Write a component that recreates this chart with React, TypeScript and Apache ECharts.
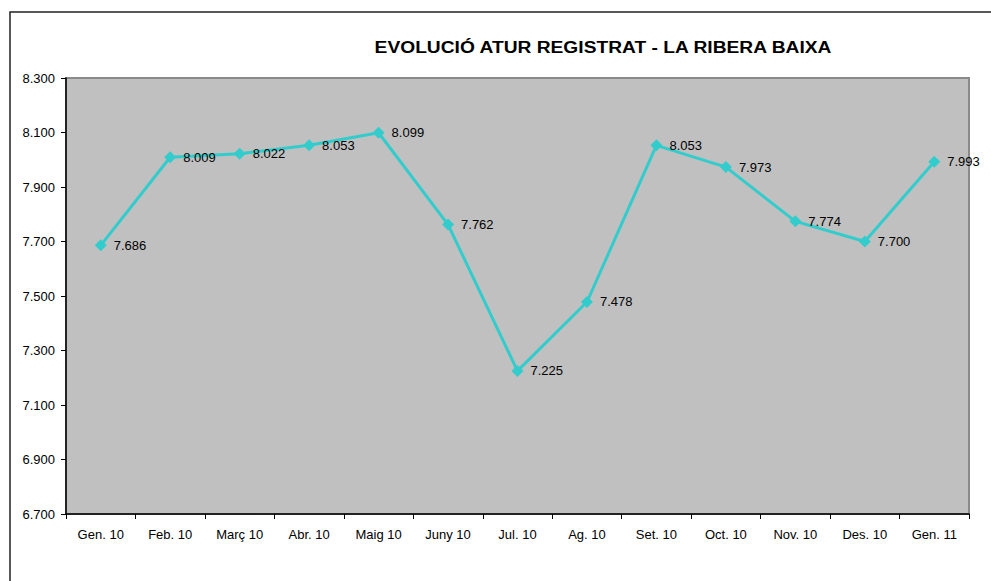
import React, { useEffect, useRef } from "react";
import * as echarts from "echarts";

const titleText = "EVOLUCIÓ ATUR REGISTRAT - LA RIBERA BAIXA";
const categories = [
  "Gen. 10", "Feb. 10", "Març 10", "Abr. 10", "Maig 10", "Juny 10", "Jul. 10",
  "Ag. 10", "Set. 10", "Oct. 10", "Nov. 10", "Des. 10", "Gen. 11",
];
const values = [7686, 8009, 8022, 8053, 8099, 7762, 7225, 7478, 8053, 7973, 7774, 7700, 7993];
const yMin = 6700;
const yMax = 8300;
const yStep = 200;

const fmt = (v: number) => {
  const s = String(Math.round(v));
  return s.replace(/\B(?=(\d{3})+(?!\d))/g, ".");
};

export default function App() {
  const ref = useRef<HTMLDivElement>(null);
  useEffect(() => {
    if (!ref.current) return;
    const chart = echarts.init(ref.current, undefined, { renderer: "svg" });
    const font = "Liberation Sans, Arial, sans-serif";
    chart.setOption({
      animation: false,
      backgroundColor: "#ffffff",
      textStyle: { fontFamily: font },
      graphic: [
        {
          type: "rect",
          shape: { x: 10, y: 12, width: 1000, height: 600 },
          style: { fill: "none", stroke: "#222", lineWidth: 1.5 },
          z: 100,
        },
        {
          type: "text",
          x: 603,
          y: 47,
          scaleX: 1.13,
          originX: 0,
          originY: 0,
          style: {
            text: titleText,
            fill: "#000",
            font: "bold 17px Liberation Sans, Arial, sans-serif",
            textAlign: "center",
            textVerticalAlign: "middle",
          },
          z: 100,
        },
      ],
      grid: {
        left: 66,
        top: 78,
        right: 22,
        bottom: 67,
        show: true,
        backgroundColor: "#C0C0C0",
        borderColor: "#8a8a8a",
        borderWidth: 2,
      },
      xAxis: {
        type: "category",
        data: categories,
        boundaryGap: true,
        axisLine: { show: true, lineStyle: { color: "#000", width: 1.5 } },
        axisTick: { show: true, length: 5, inside: false, lineStyle: { color: "#000" } },
        axisLabel: { color: "#000", fontSize: 13, margin: 14, fontFamily: font, interval: 0 },
        splitLine: { show: false },
      },
      yAxis: {
        type: "value",
        min: yMin,
        max: yMax,
        interval: yStep,
        axisLine: { show: true, lineStyle: { color: "#000", width: 1.5 } },
        axisTick: { show: true, length: 5, inside: false, lineStyle: { color: "#000" } },
        axisLabel: { color: "#000", fontSize: 13, margin: 11, fontFamily: font, formatter: (v: number) => fmt(v) },
        splitLine: { show: false },
      },
      series: [
        {
          type: "line",
          data: values,
          symbol: "diamond",
          symbolSize: 12,
          lineStyle: { color: "#33CCCC", width: 3 },
          itemStyle: { color: "#33CCCC" },
          label: {
            show: true,
            position: "right",
            distance: 7,
            color: "#000",
            fontSize: 13,
            fontFamily: font,
            formatter: (p: any) => fmt(p.value),
          },
        },
      ],
    });
    return () => chart.dispose();
  }, []);
  return (
    <div
      ref={ref}
      style={{ position: "fixed", left: 0, top: 0, width: 991, height: 581 }}
    />
  );
}
